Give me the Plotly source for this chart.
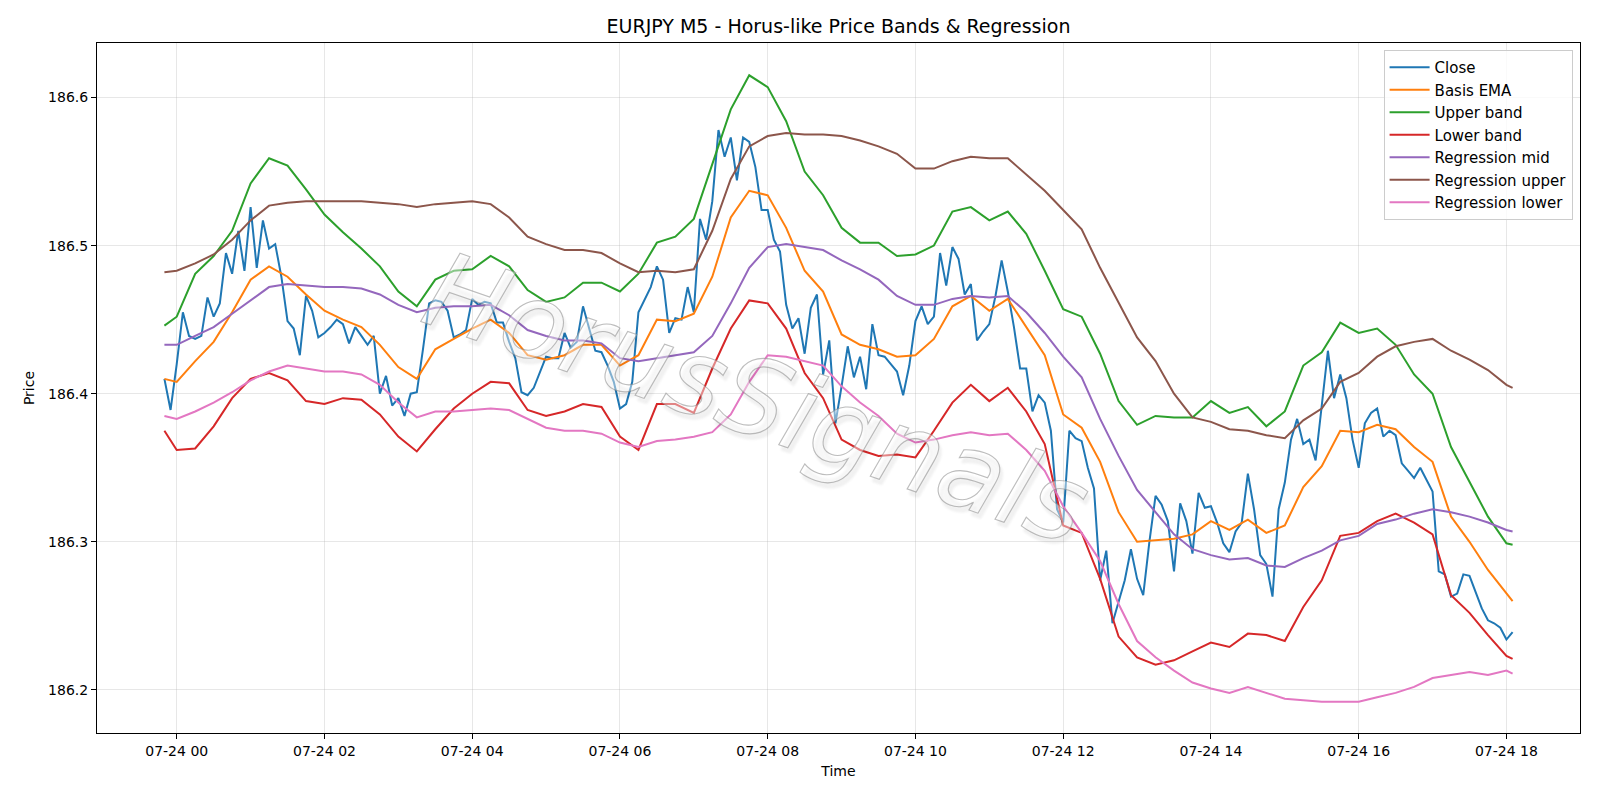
import pandas as pd
import plotly.graph_objects as go

# ---------------- data ----------------
close_start = "2025-07-23 23:50"   # 5-minute bars
close = [
    186.410, 186.389, 186.420, 186.455, 186.439, 186.437, 186.439, 186.465, 186.452, 186.461,
    186.495, 186.481, 186.510, 186.483, 186.526, 186.485, 186.517, 186.498, 186.501, 186.479,
    186.449, 186.444, 186.426, 186.466, 186.456, 186.438, 186.441, 186.445, 186.450, 186.447,
    186.434, 186.445, 186.439, 186.433, 186.439, 186.400, 186.412, 186.392, 186.397, 186.385,
    186.400, 186.401, 186.430, 186.461, 186.463, 186.462, 186.456, 186.438, 186.440, 186.443,
    186.464, 186.460, 186.462, 186.461, 186.448, 186.448, 186.435, 186.424, 186.401, 186.399,
    186.404, 186.415, 186.425, 186.424, 186.424, 186.441, 186.431, 186.435, 186.459, 186.444,
    186.429, 186.428, 186.419, 186.408, 186.390, 186.393, 186.408, 186.455, 186.463, 186.472,
    186.486, 186.477, 186.441, 186.451, 186.450, 186.472, 186.455, 186.518, 186.504, 186.530,
    186.578, 186.560, 186.573, 186.544, 186.573, 186.570, 186.553, 186.524, 186.524, 186.504,
    186.496, 186.460, 186.444, 186.451, 186.427, 186.458, 186.467, 186.413, 186.436, 186.380,
    186.405, 186.432, 186.411, 186.425, 186.403, 186.447, 186.426, 186.425, 186.420, 186.415,
    186.399, 186.419, 186.449, 186.459, 186.447, 186.452, 186.495, 186.473, 186.499, 186.491,
    186.467, 186.474, 186.436, 186.442, 186.447, 186.466, 186.490, 186.469, 186.445, 186.417,
    186.417, 186.388, 186.399, 186.394, 186.375, 186.322, 186.313, 186.375, 186.370, 186.368,
    186.350, 186.336, 186.274, 186.294, 186.245, 186.260, 186.274, 186.295, 186.275, 186.264,
    186.300, 186.331, 186.325, 186.314, 186.280, 186.326, 186.314, 186.292, 186.333, 186.323,
    186.324, 186.313, 186.299, 186.293, 186.307, 186.313, 186.346, 186.322, 186.291, 186.285,
    186.263, 186.322, 186.340, 186.369, 186.383, 186.366, 186.369, 186.355, 186.391, 186.429,
    186.397, 186.413, 186.397, 186.369, 186.350, 186.380, 186.387, 186.390, 186.371, 186.375,
    186.372, 186.353, 186.348, 186.343, 186.350, 186.342, 186.334, 186.280, 186.278, 186.263,
    186.265, 186.278, 186.277, 186.266, 186.255, 186.247, 186.245, 186.242, 186.234, 186.239,
]

# smooth series sampled every 15 minutes (minutes after 07-24 00:00)
band_minutes = [-10] + list(range(0, 1081, 15)) + [1085]

basis_ema = [
    186.410, 186.408, 186.422, 186.435, 186.455, 186.477, 186.486, 186.479, 186.467, 186.456,
    186.450, 186.445, 186.433, 186.418, 186.410, 186.430, 186.437, 186.444, 186.450, 186.441,
    186.426, 186.423, 186.426, 186.433, 186.433, 186.419, 186.426, 186.450, 186.449, 186.454,
    186.479, 186.519, 186.537, 186.534, 186.512, 186.483, 186.469, 186.440, 186.433, 186.430,
    186.425, 186.426, 186.437, 186.459, 186.466, 186.456, 186.464, 186.445, 186.426, 186.386,
    186.377, 186.354, 186.320, 186.300, 186.301, 186.302, 186.305, 186.314, 186.308, 186.315,
    186.306, 186.311, 186.337, 186.351, 186.375, 186.374, 186.379, 186.376, 186.364, 186.354,
    186.317, 186.300, 186.281, 186.265, 186.260,
]
upper_band = [
    186.446, 186.452, 186.481, 186.493, 186.510, 186.542, 186.559, 186.554, 186.538, 186.521,
    186.509, 186.498, 186.486, 186.469, 186.459, 186.477, 186.483, 186.484, 186.493, 186.486,
    186.470, 186.462, 186.465, 186.475, 186.475, 186.469, 186.481, 186.502, 186.506, 186.518,
    186.555, 186.592, 186.615, 186.607, 186.584, 186.550, 186.534, 186.512, 186.502, 186.502,
    186.493, 186.494, 186.500, 186.523, 186.526, 186.517, 186.523, 186.508, 186.483, 186.457,
    186.452, 186.427, 186.395, 186.379, 186.385, 186.384, 186.384, 186.395, 186.387, 186.391,
    186.378, 186.388, 186.419, 186.428, 186.448, 186.441, 186.444, 186.433, 186.413, 186.400,
    186.364, 186.340, 186.317, 186.299, 186.298,
]
lower_band = [
    186.375, 186.362, 186.363, 186.378, 186.397, 186.410, 186.414, 186.409, 186.395, 186.393,
    186.397, 186.396, 186.386, 186.371, 186.361, 186.376, 186.390, 186.400, 186.408, 186.407,
    186.389, 186.385, 186.388, 186.393, 186.391, 186.371, 186.362, 186.393, 186.393, 186.387,
    186.417, 186.444, 186.463, 186.461, 186.444, 186.414, 186.397, 186.369, 186.362, 186.358,
    186.359, 186.357, 186.375, 186.394, 186.406, 186.395, 186.404, 186.388, 186.366, 186.311,
    186.306, 186.275, 186.236, 186.222, 186.217, 186.220, 186.226, 186.232, 186.229, 186.238,
    186.237, 186.233, 186.256, 186.274, 186.304, 186.306, 186.314, 186.319, 186.313, 186.305,
    186.264, 186.252, 186.237, 186.223, 186.221,
]
reg_mid = [
    186.433, 186.433, 186.439, 186.445, 186.454, 186.463, 186.472, 186.474, 186.473, 186.472,
    186.472, 186.471, 186.467, 186.460, 186.455, 186.458, 186.459, 186.459, 186.460, 186.453,
    186.443, 186.439, 186.436, 186.436, 186.434, 186.424, 186.422, 186.424, 186.426, 186.428,
    186.439, 186.461, 186.485, 186.499, 186.501, 186.499, 186.497, 186.490, 186.484, 186.477,
    186.466, 186.460, 186.460, 186.464, 186.466, 186.465, 186.466, 186.455, 186.441, 186.425,
    186.411, 186.383, 186.358, 186.335, 186.320, 186.305, 186.295, 186.291, 186.288, 186.289,
    186.284, 186.283, 186.289, 186.294, 186.301, 186.304, 186.312, 186.315, 186.319, 186.322,
    186.320, 186.317, 186.313, 186.308, 186.307,
]
reg_upper = [
    186.482, 186.483, 186.488, 186.494, 186.504, 186.517, 186.527, 186.529, 186.530, 186.530,
    186.530, 186.530, 186.529, 186.528, 186.526, 186.528, 186.529, 186.530, 186.528, 186.519,
    186.506, 186.501, 186.497, 186.497, 186.495, 186.488, 186.482, 186.483, 186.482, 186.484,
    186.510, 186.545, 186.567, 186.574, 186.576, 186.575, 186.575, 186.574, 186.571, 186.567,
    186.562, 186.552, 186.552, 186.557, 186.560, 186.559, 186.559, 186.548, 186.537, 186.524,
    186.511, 186.485, 186.461, 186.438, 186.422, 186.400, 186.384, 186.381, 186.376, 186.375,
    186.372, 186.370, 186.382, 186.390, 186.408, 186.414, 186.425, 186.432, 186.435, 186.437,
    186.429, 186.423, 186.416, 186.406, 186.404,
]
reg_lower = [
    186.385, 186.383, 186.388, 186.394, 186.401, 186.409, 186.415, 186.419, 186.417, 186.415,
    186.415, 186.413, 186.406, 186.394, 186.384, 186.388, 186.388, 186.389, 186.390, 186.389,
    186.383, 186.377, 186.375, 186.375, 186.373, 186.367, 186.364, 186.368, 186.369, 186.371,
    186.374, 186.386, 186.408, 186.426, 186.425, 186.422, 186.419, 186.405, 186.394, 186.385,
    186.373, 186.367, 186.369, 186.372, 186.374, 186.372, 186.373, 186.362, 186.348, 186.324,
    186.306, 186.287, 186.258, 186.233, 186.222, 186.213, 186.205, 186.201, 186.198, 186.202,
    186.198, 186.194, 186.193, 186.192, 186.192, 186.192, 186.195, 186.198, 186.202, 186.208,
    186.210, 186.212, 186.210, 186.213, 186.211,
]

y_ticks = [186.2, 186.3, 186.4, 186.5, 186.6]
title_text = "EURJPY M5 - Horus-like Price Bands & Regression"
watermark = "HorusSignals"

# ---------------- figure ----------------
day0 = pd.Timestamp("2025-07-24 00:00")
close_times = pd.date_range(close_start, periods=len(close), freq="5min")
band_times = [day0 + pd.Timedelta(minutes=m) for m in band_minutes]

series = [
    ("Close", close_times, close, "#1f77b4"),
    ("Basis EMA", band_times, basis_ema, "#ff7f0e"),
    ("Upper band", band_times, upper_band, "#2ca02c"),
    ("Lower band", band_times, lower_band, "#d62728"),
    ("Regression mid", band_times, reg_mid, "#9467bd"),
    ("Regression upper", band_times, reg_upper, "#8c564b"),
    ("Regression lower", band_times, reg_lower, "#e377c2"),
]

fig = go.Figure()
for name, xs, ys, col in series:
    fig.add_trace(go.Scatter(x=xs, y=ys, mode="lines", name=name,
                             line=dict(color=col, width=2)))

font_family = "DejaVu Sans"
grid_col = "rgba(176,176,176,0.3)"

fig.update_layout(
    width=1600, height=800,
    paper_bgcolor="white", plot_bgcolor="white",
    margin=dict(l=97, r=20, t=43, b=67),
    font=dict(family=font_family, size=14, color="black"),
    title=dict(text=title_text, x=0.5, xref="paper", xanchor="center",
               y=1 - 26.5 / 800, yref="container", yanchor="middle",
               font=dict(size=19, family=font_family, color="black")),
    showlegend=True,
    legend=dict(x=0.995, y=0.99, xanchor="right", yanchor="top",
                bgcolor="rgba(255,255,255,0.8)", bordercolor="#cccccc", borderwidth=1,
                font=dict(size=15, family=font_family), tracegroupgap=0,
                itemwidth=40),
)

fig.update_xaxes(
    range=[pd.Timestamp("2025-07-23 22:55:15"), pd.Timestamp("2025-07-24 18:59:45")],
    tickformat="%m-%d %H", dtick=2 * 3600 * 1000, tick0="2025-07-24 00:00",
    showline=True, linecolor="black", linewidth=1, mirror=True,
    ticks="outside", ticklen=5, tickcolor="black", tickwidth=1,
    showgrid=True, gridcolor=grid_col, gridwidth=1, zeroline=False,
    title=dict(text="Time", font=dict(size=14), standoff=8),
    tickfont=dict(size=14),
)
fig.update_yaxes(
    range=[186.1709, 186.6368],
    tickvals=y_ticks, ticktext=[f"{v:.1f}" for v in y_ticks],
    showline=True, linecolor="black", linewidth=1, mirror=True,
    ticks="outside", ticklen=5, tickcolor="black", tickwidth=1,
    showgrid=True, gridcolor=grid_col, gridwidth=1, zeroline=False,
    title=dict(text="Price", font=dict(size=14), standoff=10),
    tickfont=dict(size=14),
)

fig.add_annotation(
    text=watermark, xref="paper", yref="paper", x=0.445, y=0.485,
    showarrow=False, textangle=19,
    font=dict(size=106, family="DejaVu Sans", color="rgba(255,255,255,0.45)",
              style="italic", shadow="4px 4px 3px rgba(0,0,0,0.12)"),
)

# give the watermark hollow, outlined letters (stroke on the real SVG text)
outline_js = (
    "document.querySelectorAll('.annotation-text').forEach(function(t){"
    "t.style.stroke='rgba(135,135,135,0.55)';t.style.strokeWidth='1.1px';});"
)

fig.write_html("out.html", post_script=outline_js)
